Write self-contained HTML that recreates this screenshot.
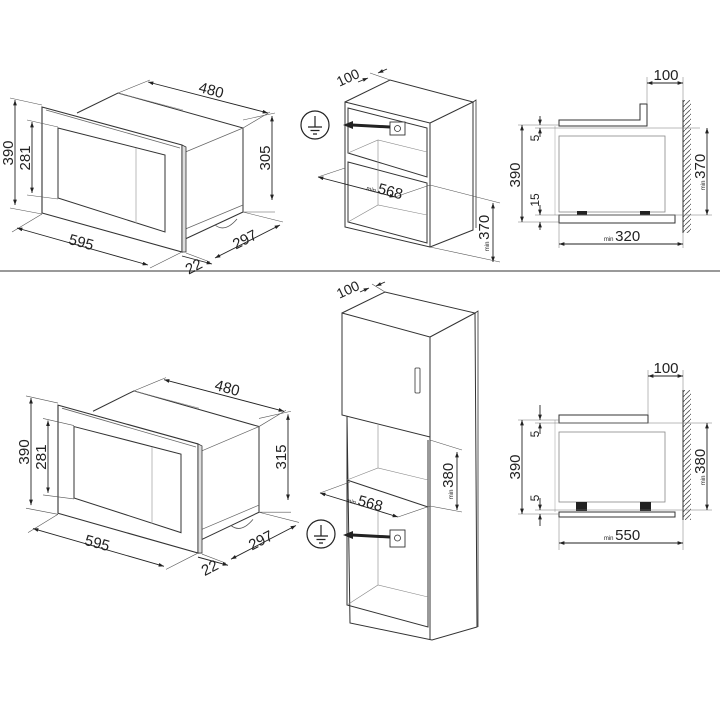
<!DOCTYPE html>
<html><head><meta charset="utf-8"><style>
html,body{margin:0;padding:0;background:#fff;}
svg{display:block;font-family:"Liberation Sans",sans-serif;}
</style></head><body>
<svg width="720" height="720" viewBox="0 0 720 720" xmlns="http://www.w3.org/2000/svg">
<defs>
<marker id="a" viewBox="0 0 10 10" refX="10" refY="5" markerWidth="6" markerHeight="6" orient="auto-start-reverse"><path d="M0,1.5 L10,5 L0,8.5z" fill="#222"/></marker>
<pattern id="h" width="5" height="5" patternUnits="userSpaceOnUse"><path d="M0,5 L5,0" stroke="#555" stroke-width="0.8"/></pattern>
<g id="mw">
 <path d="M77,113 L118,93 L243,128 L243,212 L183,240" fill="none" stroke="#333" stroke-width="1"/>
 <path d="M118,93 L183,110" fill="none" stroke="#888" stroke-width="0.6"/>
 <path d="M183,153 L243,128 M183,230 L243,205" fill="none" stroke="#666" stroke-width="0.7"/>
 <path d="M215,225 q10,8 22,-6" fill="none" stroke="#555" stroke-width="0.8"/>
 <polygon points="42,107 182,145 182,252 42,213" fill="#fff" stroke="#333" stroke-width="1.1"/>
 <path d="M46,110 L180,148" stroke="#666" stroke-width="0.8"/>
 <polygon points="182,145 186,147 186,252 182,252" fill="#ddd" stroke="#333" stroke-width="0.8"/>
 <polygon points="58,128 165,155 165,232 58,198" fill="none" stroke="#333" stroke-width="1"/>
 <line x1="136" y1="148" x2="136" y2="223" stroke="#aaa" stroke-width="0.8"/>
 <g stroke="#555" stroke-width="0.6" fill="none">
  <path d="M10,98 L42,105 M10,208 L42,214 M27,120 L58,127 M27,195 L58,199 M150,80 L118,93 M270,112 L243,128 M275,113 L243,120 M275,212 L243,212 M12,232 L42,214 M150,268 L182,252 M210,262 L186,253 M283,222 L243,212"/>
 </g>
 <g stroke="#222" stroke-width="0.9" fill="none">
  <line x1="15" y1="100" x2="15" y2="205" marker-start="url(#a)" marker-end="url(#a)"/>
  <line x1="32" y1="122" x2="32" y2="193" marker-start="url(#a)" marker-end="url(#a)"/>
  <line x1="272" y1="116" x2="272" y2="200" marker-start="url(#a)" marker-end="url(#a)"/>
  <line x1="148" y1="82" x2="268" y2="113" marker-start="url(#a)" marker-end="url(#a)"/>
  <line x1="17" y1="228" x2="148" y2="265" marker-start="url(#a)" marker-end="url(#a)"/>
  <line x1="215" y1="258" x2="280" y2="225" marker-start="url(#a)" marker-end="url(#a)"/>
  <line x1="182" y1="256" x2="212" y2="264" marker-end="url(#a)"/>
 </g>
 <g font-size="15" fill="#222">
  <text transform="translate(13,153) rotate(-90)" text-anchor="middle">390</text>
  <text transform="translate(30,158) rotate(-90)" text-anchor="middle">281</text>
  <text transform="translate(210,95) rotate(15)" text-anchor="middle">480</text>
  <text transform="translate(80,247) rotate(15)" text-anchor="middle">595</text>
  <text transform="translate(247,244) rotate(-27)" text-anchor="middle">297</text>
  <text transform="translate(196,271) rotate(-27)" text-anchor="middle">22</text>
 </g>
</g>
<g id="gnd">
 <circle cx="0" cy="0" r="14" fill="#fff" stroke="#222" stroke-width="1.2"/>
 <path d="M0,-9 V2 M-7,2 H7 M-4.5,5.5 H4.5 M-2,9 H2" stroke="#222" stroke-width="1.2"/>
</g>
</defs>

<rect x="0" y="270" width="720" height="2" fill="#999"/>

<use href="#mw"/>
<text transform="translate(270,158) rotate(-90)" text-anchor="middle" font-size="15" fill="#222">305</text>
<g transform="translate(16,296) scale(1.0,1.02)"><use href="#mw"/></g>
<text transform="translate(286,457) rotate(-90)" text-anchor="middle" font-size="15" fill="#222">315</text>

<!-- top cabinet -->
<g stroke="#333" stroke-width="1" fill="none">
 <polygon points="345,102 430,123 430,247 345,227" fill="#fff"/>
 <path d="M345,102 L390,80 L473,102 L430,123 M473,102 L473,230 L430,247"/>
 <path d="M473,102 l3,-2 v128" stroke-width="0.8"/>
 <polygon points="348,108 427,128 427,177 348,153"/>
 <polygon points="348,162 427,183 427,243 348,222"/>
 <path d="M348,153 L378,140 L427,152 M348,222 L378,205 L427,215 M378,140 V205" stroke="#888" stroke-width="0.6"/>
 <rect x="390" y="122" width="15" height="13" fill="#fff" stroke-width="0.9"/>
 <circle cx="397.5" cy="128.5" r="3" stroke-width="0.8"/>
</g>
<path d="M390,127 L352,125" stroke="#222" stroke-width="3"/>
<path d="M343,125 l10,-4 v8z" fill="#222"/>
<use href="#gnd" x="315" y="125"/>
<g stroke="#555" stroke-width="0.6"><path d="M318,177 L345,168 M395,197 L430,185 M430,185 L500,203 M430,247 L500,262 M370,73 L390,80"/></g>
<g stroke="#222" stroke-width="0.9" fill="none">
 <line x1="318" y1="177" x2="395" y2="197" marker-start="url(#a)" marker-end="url(#a)"/>
 <line x1="493" y1="203" x2="493" y2="262" marker-start="url(#a)" marker-end="url(#a)"/>
 <line x1="358" y1="82" x2="368" y2="78" marker-end="url(#a)"/>
 <line x1="387" y1="69" x2="378" y2="73" marker-end="url(#a)"/>
</g>
<g fill="#222">
 <text transform="translate(350,82) rotate(-25)" font-size="14" text-anchor="middle">100</text>
 <text transform="translate(366,190) rotate(15)" font-size="15"><tspan font-size="6">min </tspan>568</text>
 <text transform="translate(489,233) rotate(-90)" font-size="15" text-anchor="middle"><tspan font-size="6">min </tspan>370</text>
</g>

<!-- tall cabinet -->
<g stroke="#333" stroke-width="1" fill="none">
 <path d="M342,313 L385,292 L475,313 L430,337 M475,313 L477,627 L432,640 L350,623 L347,415" fill="#fff"/>
 <path d="M475,313 l3,-2 v316" stroke-width="0.8"/>
 <polygon points="342,313 430,337 430,437 342,415" fill="#fff"/>
 <rect x="415" y="368" width="5" height="25" rx="1" stroke-width="0.8"/>
 <path d="M347,417 L347,605 L428,627 L428,440 M347,480 L428,507 M430,437 V640"/>
 <path d="M347,480 L378,468 L428,480 M378,468 V425 M347,605 L378,585 L428,597 M378,585 V510" stroke="#888" stroke-width="0.6"/>
 <rect x="390" y="530" width="15" height="17" fill="#fff" stroke-width="0.9"/>
 <circle cx="397.5" cy="538" r="3" stroke-width="0.8"/>
</g>
<path d="M390,537 L352,535" stroke="#222" stroke-width="3"/>
<path d="M343,535 l10,-4 v8z" fill="#222"/>
<use href="#gnd" x="321" y="534"/>
<g stroke="#555" stroke-width="0.6"><path d="M320,493 L350,482 M398,517 L430,506 M430,440 L462,450 M430,506 L462,512 M372,284 L385,292"/></g>
<g stroke="#222" stroke-width="0.9" fill="none">
 <line x1="320" y1="493" x2="398" y2="517" marker-start="url(#a)" marker-end="url(#a)"/>
 <line x1="457" y1="452" x2="457" y2="510" marker-start="url(#a)" marker-end="url(#a)"/>
 <line x1="360" y1="292" x2="369" y2="288" marker-end="url(#a)"/>
 <line x1="385" y1="282" x2="376" y2="286" marker-end="url(#a)"/>
</g>
<g fill="#222">
 <text transform="translate(350,294) rotate(-25)" font-size="14" text-anchor="middle">100</text>
 <text transform="translate(346,502) rotate(15)" font-size="15"><tspan font-size="6">min </tspan>568</text>
 <text transform="translate(453,481) rotate(-90)" font-size="15" text-anchor="middle"><tspan font-size="6">min </tspan>380</text>
</g>

<!-- top right side view -->
<rect x="683" y="100" width="8" height="133" fill="url(#h)"/>
<line x1="683" y1="100" x2="683" y2="233" stroke="#333" stroke-width="1"/>
<g stroke="#333" stroke-width="1" fill="#fff">
 <path d="M559,120 L640,120 L640,104 L647,104 L647,126 L559,126z"/>
 <rect x="559" y="136" width="106" height="76" stroke="#888" stroke-width="0.8"/>
 <rect x="559" y="215" width="116" height="8"/>
 <line x1="555" y1="126" x2="555" y2="215" stroke="#aaa" stroke-width="0.6"/>
</g>
<rect x="577" y="211" width="10" height="4" fill="#222"/><rect x="640" y="211" width="10" height="4" fill="#222"/>
<g stroke="#777" stroke-width="0.5"><path d="M518,125 H559 M518,222 H559 M535,128 H700 M535,215 H712 M559,223 V248 M683,233 V248 M647,77 V104 M683,77 V100"/></g>
<g stroke="#222" stroke-width="0.9" fill="none">
 <line x1="522" y1="125" x2="522" y2="222" marker-start="url(#a)" marker-end="url(#a)"/>
 <line x1="707" y1="128" x2="707" y2="215" marker-start="url(#a)" marker-end="url(#a)"/>
 <line x1="647" y1="83" x2="683" y2="83" marker-start="url(#a)" marker-end="url(#a)"/>
 <line x1="559" y1="244" x2="683" y2="244" marker-start="url(#a)" marker-end="url(#a)"/>
 <line x1="540" y1="116" x2="540" y2="125" marker-end="url(#a)"/>
 <line x1="540" y1="137" x2="540" y2="128" marker-end="url(#a)"/>
 <line x1="540" y1="205" x2="540" y2="215" marker-end="url(#a)"/>
 <line x1="540" y1="230" x2="540" y2="222" marker-end="url(#a)"/>
</g>
<g fill="#222">
 <text transform="translate(520,175) rotate(-90)" font-size="15" text-anchor="middle">390</text>
 <text transform="translate(539,138) rotate(-90)" font-size="12" text-anchor="middle">5</text>
 <text transform="translate(539,200) rotate(-90)" font-size="12" text-anchor="middle">15</text>
 <text transform="translate(705,172) rotate(-90)" font-size="15" text-anchor="middle"><tspan font-size="6">min </tspan>370</text>
 <text x="666" y="80" font-size="15" text-anchor="middle">100</text>
 <text x="622" y="241" font-size="15" text-anchor="middle"><tspan font-size="6">min </tspan>320</text>
</g>

<!-- bottom right side view -->
<rect x="683" y="390" width="8" height="130" fill="url(#h)"/>
<line x1="683" y1="390" x2="683" y2="520" stroke="#333" stroke-width="1"/>
<g stroke="#333" stroke-width="1" fill="#fff">
 <rect x="559" y="415" width="89" height="8"/>
 <rect x="559" y="432" width="106" height="70" stroke="#888" stroke-width="0.8"/>
 <rect x="559" y="512" width="116" height="5"/>
 <line x1="555" y1="420" x2="555" y2="512" stroke="#aaa" stroke-width="0.6"/>
</g>
<rect x="576" y="502" width="11" height="9" fill="#222"/><rect x="640" y="502" width="11" height="9" fill="#222"/>
<g stroke="#777" stroke-width="0.5"><path d="M518,420 H559 M518,514 H559 M535,423 H712 M535,510 H712 M559,517 V550 M683,520 V550 M648,370 V415 M683,370 V390"/></g>
<g stroke="#222" stroke-width="0.9" fill="none">
 <line x1="522" y1="420" x2="522" y2="514" marker-start="url(#a)" marker-end="url(#a)"/>
 <line x1="707" y1="423" x2="707" y2="510" marker-start="url(#a)" marker-end="url(#a)"/>
 <line x1="648" y1="376" x2="683" y2="376" marker-start="url(#a)" marker-end="url(#a)"/>
 <line x1="559" y1="543" x2="683" y2="543" marker-start="url(#a)" marker-end="url(#a)"/>
 <line x1="540" y1="405" x2="540" y2="420" marker-end="url(#a)"/>
 <line x1="540" y1="434" x2="540" y2="423" marker-end="url(#a)"/>
 <line x1="540" y1="498" x2="540" y2="510" marker-end="url(#a)"/>
 <line x1="540" y1="526" x2="540" y2="514" marker-end="url(#a)"/>
</g>
<g fill="#222">
 <text transform="translate(520,467) rotate(-90)" font-size="15" text-anchor="middle">390</text>
 <text transform="translate(539,434) rotate(-90)" font-size="12" text-anchor="middle">5</text>
 <text transform="translate(539,498) rotate(-90)" font-size="12" text-anchor="middle">5</text>
 <text transform="translate(705,467) rotate(-90)" font-size="15" text-anchor="middle"><tspan font-size="6">min </tspan>380</text>
 <text x="666" y="373" font-size="15" text-anchor="middle">100</text>
 <text x="622" y="540" font-size="15" text-anchor="middle"><tspan font-size="6">min </tspan>550</text>
</g>
</svg>
</body></html>
